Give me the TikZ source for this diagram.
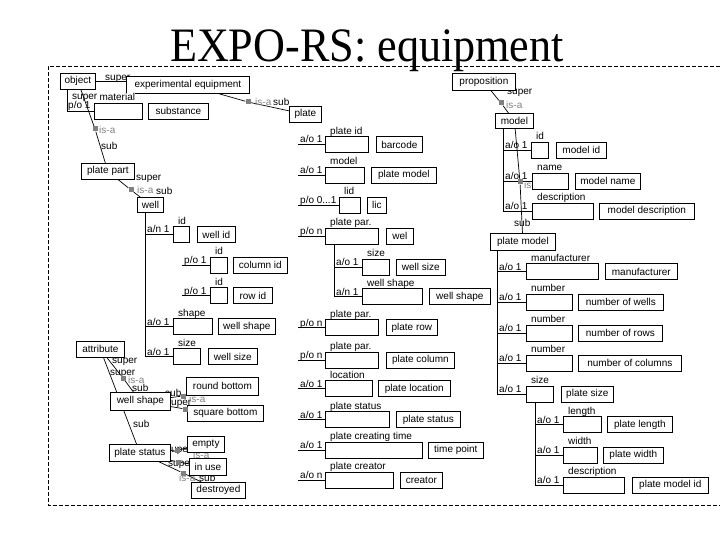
\documentclass[tikz,border=0pt]{standalone}
\usepackage{fontspec}
\setmainfont{Liberation Sans}
\newfontfamily\titlefont{Liberation Serif}
\usetikzlibrary{backgrounds}
\definecolor{isagrey}{RGB}{128,128,128}
\newcommand\lblfont{\fontsize{10}{11}\selectfont}
\tikzset{
  cbox/.style={draw, fill=white, line width=0.8pt, inner sep=1pt, anchor=north west, font=\lblfont},
  slotbox/.style={draw, fill=white, line width=0.7pt, minimum height=16pt, inner sep=0pt, anchor=west},
  vbox/.style={draw, fill=white, line width=0.7pt, minimum height=16pt, inner sep=2pt, anchor=west, font=\lblfont},
  slotlbl/.style={anchor=base west, inner sep=0pt, font=\lblfont, xshift=5pt, yshift=2pt},
  rellbl/.style={anchor=base west, inner sep=0pt, font=\lblfont, xshift=2pt, yshift=1.5pt},
  rel/.style={line width=0.7pt},
  isasq/.style={fill=isagrey, draw=none, minimum size=5pt, inner sep=0pt},
  isatxt/.style={anchor=base west, inner sep=0pt, font=\lblfont, text=isagrey},
  txt/.style={anchor=base west, inner sep=0pt, font=\lblfont},
  border/.style={line width=0.8pt, dash pattern=on 4pt off 2pt},
}
% #1 name, #2 line start x, #3 slot left x, #4 y centre, #5 slot width, #6 relation label, #7 slot label
\newcommand\arow[7]{%
  \node[slotbox, minimum width=#5pt] (#1s) at (#3,#4) {};
  \node[slotlbl] (#1l) at (#1s.north west) {#7};
  \coordinate (#1c) at (#2,#4);
  \node[rellbl] (#1r) at (#1c) {#6};
  \begin{pgfonlayer}{background}
    \draw[rel] (#1c) -- (#1s.west);
  \end{pgfonlayer}}
% #1 name, #2 left x, #3 y centre, #4 width, #5 text
\newcommand\vrow[5]{\node[vbox, minimum width=#4pt] (#1) at (#2,#3) {#5};}
\begin{document}
\begin{tikzpicture}[x=1pt,y=-1pt]
\useasboundingbox (0,0) rectangle (720,540);
% title and frame
\draw[border] (720,66) -- (48,66) -- (48,505) -- (720,505);
\node[font=\titlefont\fontsize{48}{50}\selectfont, anchor=base, inner sep=0pt, xscale=0.92, transform shape] (title) at (367,62) {EXPO-RS: equipment};

% concept boxes
\node[cbox, minimum width=35pt, minimum height=16pt] (object) at (60,73) {object};
\node[cbox, minimum width=123pt, minimum height=17pt] (equip) at (126,76) {experimental equipment};
\node[slotbox, minimum width=48pt] (mats) at (94,111) {};
\node[cbox, minimum width=60pt, minimum height=16pt] (substance) at (148,103) {substance};
\node[cbox, minimum width=32pt, minimum height=16pt] (plate) at (289,106) {plate};
\node[cbox, minimum width=53pt, minimum height=16pt] (platepart) at (81,163) {plate part};
\node[cbox, minimum width=26pt, minimum height=15pt] (well) at (137,197) {well};
\node[cbox, minimum width=48pt, minimum height=16pt] (attribute) at (76,341) {attribute};
\node[cbox, minimum width=60pt, minimum height=18pt] (wellshape) at (110,392) {well shape};
\node[cbox, minimum width=61pt, minimum height=17pt] (platestatus) at (109,444) {plate status};
\node[cbox, minimum width=72pt, minimum height=18pt] (roundbottom) at (186,377) {round bottom};
\node[cbox, minimum width=76pt, minimum height=16pt] (squarebottom) at (187,405) {square bottom};
\node[cbox, minimum width=37pt, minimum height=16pt] (empty) at (187,436) {empty};
\node[cbox, minimum width=37pt, minimum height=17pt] (inuse) at (189,458) {in use};
\node[cbox, minimum width=54pt, minimum height=16pt] (destroyed) at (191,482) {destroyed};
\node[cbox, minimum width=63pt, minimum height=17pt] (proposition) at (452,73) {proposition};
\node[cbox, minimum width=38pt, minimum height=15pt] (model) at (495,113) {model};
\node[cbox, minimum width=65pt, minimum height=17pt] (platemodel) at (490,233) {plate model};

% well slots
\arow{wa}{145}{173}{234.5}{16}{a/n 1}{id}
\vrow{wellid}{197}{234.5}{38}{well id}
\arow{wb}{182}{210}{265}{17}{p/o 1}{id}
\vrow{columnid}{233}{265}{54}{column id}
\arow{wc}{182}{210}{295.5}{17}{p/o 1}{id}
\vrow{rowid}{233}{295.5}{39}{row id}
\arow{wd}{145}{173}{326.5}{39}{a/o 1}{shape}
\vrow{wellshapev}{218}{326.5}{57}{well shape}
\arow{we}{145}{173}{356.5}{27}{a/o 1}{size}
\vrow{wellsizev}{208}{356.5}{49}{well size}

% plate slots
\arow{pa}{298}{325}{144.5}{43}{a/o 1}{plate id}
\vrow{barcode}{376}{144.5}{46}{barcode}
\arow{pb}{298}{325}{175}{39}{a/o 1}{model}
\vrow{platemodelv}{371}{175}{65}{plate model}
\arow{pc}{298}{339}{205}{21}{p/o 0...1}{lid}
\vrow{lic}{367}{205}{19}{lic}
\arow{pd}{298}{325}{236}{53}{p/o n}{plate par.}
\vrow{wel}{386}{236}{27}{wel}
\arow{na}{334}{362}{267}{27}{a/o 1}{size}
\vrow{wellsizen}{396}{267}{49}{well size}
\arow{nb}{334}{362}{296.5}{60}{a/n 1}{well shape}
\vrow{wellshapen}{429}{296.5}{61}{well shape}
\arow{pe}{298}{325}{327.5}{53}{p/o n}{plate par.}
\vrow{platerow}{386}{327.5}{51}{plate row}
\arow{pf}{298}{325}{360}{53}{p/o n}{plate par.}
\vrow{platecolumn}{386}{360}{68}{plate column}
\arow{pg}{298}{325}{388.5}{47}{a/o 1}{location}
\vrow{platelocation}{378}{388.5}{72}{plate location}
\arow{ph}{298}{325}{419.5}{64}{a/o 1}{plate status}
\vrow{platestatusv}{396}{419.5}{64}{plate status}
\arow{pi}{298}{325}{450}{97}{a/o 1}{plate creating time}
\vrow{timepoint}{428}{450}{55}{time point}
\arow{pj}{298}{325}{480}{68}{a/o n}{plate creator}
\vrow{creator}{400}{480}{42}{creator}

% model slots
\arow{ma}{503}{531}{150}{17}{a/o 1}{id}
\vrow{modelid}{556}{150}{50}{model id}
\arow{mb}{503}{532}{181}{36}{a/o 1}{name}
\vrow{modelname}{575}{181}{65}{model name}
\arow{mc}{503}{532}{211}{61}{a/o 1}{description}
\vrow{modeldesc}{599}{211}{95}{model description}

% plate model slots
\arow{qa}{497}{526}{271.5}{72}{a/o 1}{manufacturer}
\vrow{manufacturer}{605}{271.5}{72}{manufacturer}
\arow{qb}{497}{526}{302}{46}{a/o 1}{number}
\vrow{nwells}{578}{302}{85}{number of wells}
\arow{qc}{497}{526}{333}{46}{a/o 1}{number}
\vrow{nrows}{578}{333}{84}{number of rows}
\arow{qd}{497}{526}{363}{46}{a/o 1}{number}
\vrow{ncolumns}{578}{363}{103}{number of columns}
\arow{qe}{497}{526}{394}{27}{a/o 1}{size}
\vrow{platesize}{561}{394}{52}{plate size}
\arow{sa}{535}{563}{424.5}{38}{a/o 1}{length}
\vrow{platelength}{607}{424.5}{65}{plate length}
\arow{sb}{535}{563}{455}{34}{a/o 1}{width}
\vrow{platewidth}{603}{455}{60}{plate width}
\arow{sc}{535}{563}{485}{61}{a/o 1}{description}
\vrow{platemodelid}{632}{485}{76}{plate model id}

% material slot label and object p/o
\node[slotlbl, fill=white, inner sep=0.3pt] (matl) at (mats.north west) {material};
\node[txt] (pomat) at (68,109) {p/o 1};

% is-a squares
\node[isasq] (sq1) at (248,102) {};
\node[isasq] (sq2) at (95,129) {};
\node[isasq] (sq3) at (131,190) {};
\node[isasq] (sq4) at (123,378) {};
\node[isasq] (sq5) at (183,396) {};
\node[isasq] (sq6) at (185,409) {};
\node[isasq] (sq7) at (177,450) {};
\node[isasq] (sq8) at (178,462) {};
\node[isasq] (sq9) at (183,473) {};
\node[isasq] (sq10) at (501,103) {};
\node[isasq] (sq11) at (520,182) {};

\begin{pgfonlayer}{background}
  % connectors
  \draw[rel] (object.east) -- (object.east -| equip.west);
  \draw[rel] ([xshift=7pt]object.south west) |- (mats.west);
  \draw[rel] (equip) -- (sq1) -- (plate);
  \draw[rel] (object) -- (sq2) -- (platepart);
  \draw[rel] (platepart) -- (sq3) -- (well);
  \draw[rel] (attribute) -- (sq4) -- (wellshape);
  \draw[rel] (attribute) -- (platestatus);
  \draw[rel] (wellshape) -- (sq5) -- (roundbottom);
  \draw[rel] (wellshape) -- (sq6) -- (squarebottom);
  \draw[rel] (platestatus) -- (sq7) -- (empty);
  \draw[rel] (platestatus) -- (sq8) -- (inuse);
  \draw[rel] (platestatus) -- (sq9) -- (destroyed);
  \draw[rel] (proposition) -- (sq10) -- (model);
  \draw[rel] (model) -- (sq11) -- (platemodel);
  % trunks
  \draw[rel] (wac |- well.south) -- (wec);
  \draw[rel] (nac |- pds.south) -- (nbc);
  \draw[rel] (mac |- model.south) -- (mcc);
  \draw[rel] (qac |- platemodel.south) -- (qec);
  \draw[rel] (sac |- qes.south) -- (scc);
  % relation labels
  \node[txt] (l1) at (105,81) {super};
  \node[txt] (l2) at (72,100) {super};
  \node[isatxt] (l3) at (99,134) {is-a};
  \node[txt] (l4) at (101,150) {sub};
  \node[isatxt] (l5) at (255,106) {is-a};
  \node[txt] (l6) at (273,106) {sub};
  \node[txt] (l7) at (136,181) {super};
  \node[isatxt] (l8) at (137,194) {is-a};
  \node[txt] (l9) at (156,195) {sub};
  \node[txt] (l10) at (112,363) {super};
  \node[txt] (l11) at (110,375) {super};
  \node[isatxt] (l12) at (128,383) {is-a};
  \node[txt] (l13) at (132,391.5) {sub};
  \node[txt] (l14) at (133,427) {sub};
  \node[txt] (l15) at (165,396) {sub};
  \node[txt] (l16) at (166,405) {super};
  \node[isatxt] (l17) at (189,402) {is-a};
  \node[txt] (l18) at (166,452) {super};
  \node[isatxt] (l19) at (193,458) {is-a};
  \node[txt] (l20) at (168,466) {super};
  \node[isatxt] (l21) at (179,481) {is-a};
  \node[txt] (l22) at (199,481) {sub};
  \node[txt] (l23) at (507,95) {super};
  \node[isatxt] (l24) at (506,109) {is-a};
  \node[isatxt] (l25) at (524,189) {is-a};
  \node[txt] (l26) at (514,226) {sub};
\end{pgfonlayer}
\end{tikzpicture}
\end{document}
